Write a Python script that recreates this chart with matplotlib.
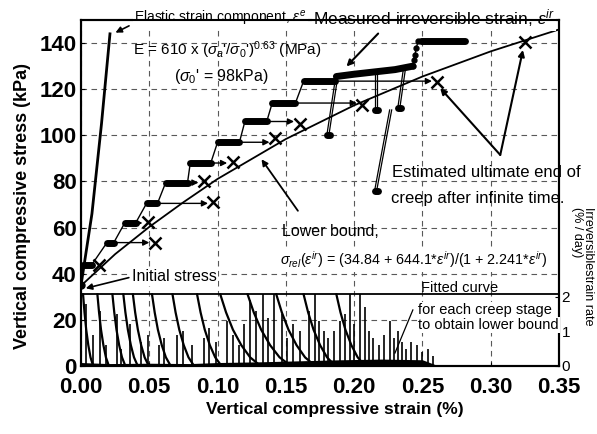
import matplotlib
matplotlib.use('Agg')
import matplotlib.pyplot as plt

plt.rcParams['font.family'] = ['Liberation Sans', 'DejaVu Sans']
plt.rcParams['mathtext.fontset'] = 'custom'
plt.rcParams['mathtext.rm'] = 'Liberation Sans'
plt.rcParams['mathtext.it'] = 'Liberation Sans:italic'

# ---- data (strain in %, stress in kPa, rate in %/day)
elastic_x = [0.0, 0.008, 0.015, 0.0212]
elastic_y = [35, 66, 105, 144]

lower_x = [0.0, 0.025, 0.05, 0.075, 0.10, 0.15, 0.20, 0.25, 0.30, 0.35]
lower_y = [34.8, 48.5, 60.3, 71.0, 81.1, 98.4, 113.0, 125.5, 136.4, 145.9]

step_stress = [44, 53.5, 62, 70.5, 79.5, 88, 97, 106, 114, 123.5]
step_x0 = [0.0015, 0.019, 0.032, 0.048, 0.062, 0.080, 0.100, 0.120, 0.140, 0.163]
step_x1 = [0.008, 0.024, 0.040, 0.056, 0.078, 0.095, 0.116, 0.136, 0.157, 0.186]

long_x = [0.187, 0.200, 0.215, 0.230, 0.243]
long_y = [125.5, 126.5, 127.5, 128.5, 130]
rise_x = [0.243, 0.2438, 0.2446, 0.2455, 0.247]
rise_y = [130, 132.5, 135, 138, 141]
top_x = [0.249, 0.281]
top_y = [141, 141]

# unloading excursions: top point, bottom point
loop_top_x = [0.186, 0.215, 0.236, 0.226]
loop_top_y = [123.5, 127, 128.5, 111]
loop_bot_x = [0.180, 0.215, 0.232, 0.215]
loop_bot_y = [100, 111, 112, 76]

# estimated ultimate ends of creep (X marks)
xm_x = [0.013, 0.054, 0.049, 0.097, 0.090, 0.111, 0.142, 0.160, 0.206, 0.261, 0.325]
xm_y = [44, 53.3, 62.4, 71, 80, 88.4, 98.8, 105, 113, 123, 140.5]

# creep stages in the rate panel
stage_start = [0.0015, 0.012, 0.023, 0.031, 0.038, 0.052, 0.067, 0.085, 0.102, 0.122, 0.143, 0.163, 0.187]
stage_width = [0.007, 0.008, 0.009, 0.010, 0.011, 0.013, 0.015, 0.017, 0.028, 0.030, 0.027, 0.022, 0.020]
decay_frac = [0.0, 0.15, 0.33, 0.55, 0.78, 1.0]
decay_rate = [2.07, 1.55, 1.05, 0.6, 0.25, 0.05]

spike_x = [0.004, 0.009, 0.014, 0.018, 0.026, 0.029, 0.036, 0.044, 0.049, 0.057, 0.061,
           0.070, 0.075, 0.081, 0.090, 0.094, 0.099, 0.107, 0.111, 0.116, 0.119, 0.124,
           0.128, 0.133, 0.137, 0.141, 0.147, 0.151, 0.155, 0.160, 0.167, 0.171, 0.174,
           0.178, 0.181, 0.185, 0.190, 0.193, 0.197, 0.200, 0.204, 0.208, 0.211, 0.214,
           0.218, 0.222, 0.226, 0.229, 0.232, 0.235, 0.238, 0.242, 0.246, 0.250, 0.254, 0.258]
spike_h = [1.8, 0.9, 1.6, 0.6, 1.5, 0.5, 1.2, 0.7, 0.9, 0.6, 0.8,
           0.9, 1.0, 0.6, 0.8, 1.1, 0.7, 1.3, 0.9, 0.6, 1.2, 1.9,
           1.6, 2.07, 1.4, 2.07, 1.5, 0.8, 1.2, 1.0, 1.6, 2.07, 1.3,
           1.0, 0.8, 1.0, 1.3, 1.5, 2.07, 1.2, 2.07, 1.7, 1.0, 0.8,
           0.6, 0.9, 1.3, 0.8, 1.0, 0.7, 0.5, 0.7, 0.6, 0.4, 0.5, 0.3]

floor_x = [0.0, 0.02, 0.05, 0.08, 0.10, 0.13, 0.16, 0.19, 0.22, 0.25, 0.262]
floor_h = [0.1, 0.07, 0.08, 0.07, 0.1, 0.12, 0.15, 0.18, 0.2, 0.18, 0.0]

xticks = [0.0, 0.05, 0.10, 0.15, 0.20, 0.25, 0.30, 0.35]
yticks = [0, 20, 40, 60, 80, 100, 120, 140]
rate_ticks = [0, 1, 2]

# ---- figure
fig = plt.figure(figsize=(5.97, 4.34), dpi=100)
ax = fig.add_axes([0.1357, 0.1567, 0.8006, 0.7972])
ax.set_xlim(0, 0.35)
ax.set_ylim(0, 150)
ax.set_xticks(xticks)
ax.set_xticklabels(['%.2f' % v for v in xticks], fontsize=16, fontweight='bold')
ax.set_yticks(yticks)
ax.set_yticklabels([str(v) for v in yticks], fontsize=16, fontweight='bold')
ax.tick_params(direction='in', length=3, pad=3)
ax.tick_params(axis='x', pad=8)
ax.grid(True, ls=(0, (5, 4)), color='0.35', lw=0.8)
ax.set_axisbelow(True)
for s in ax.spines.values():
    s.set_linewidth(1.5)

ax.axhline(31, color='black', lw=1.3)

# elastic line and lower bound
ax.plot(elastic_x, elastic_y, color='black', lw=2)
ax.plot(lower_x, lower_y, color='black', lw=1.3)

# staircase of measured irreversible strain
path_x = [0.0]
path_y = [35]
for x0, x1, s in zip(step_x0, step_x1, step_stress):
    path_x += [x0, x1]
    path_y += [s, s]
path_x += long_x + rise_x + top_x
path_y += long_y + rise_y + top_y
ax.plot(path_x, path_y, color='black', lw=1)
for x0, x1, s in zip(step_x0, step_x1, step_stress):
    ax.plot([x0, x1], [s, s], color='black', lw=5, solid_capstyle='round')
ax.plot(long_x, long_y, color='black', lw=5, solid_capstyle='round')
ax.plot(rise_x, rise_y, 'o', color='black', ms=3.5)
ax.plot(top_x, top_y, color='black', lw=5, solid_capstyle='round')
ax.plot([0.0], [35], 'o', color='black', ms=5)

for xt, yt, xb, yb in zip(loop_top_x, loop_top_y, loop_bot_x, loop_bot_y):
    ax.plot([xt, xb], [yt, yb], color='black', lw=0.9)
    ax.plot([xt + 0.0015, xb + 0.0015], [yt, yb], color='black', lw=0.9)
    ax.plot([xb, xb + 0.0025], [yb, yb], color='black', lw=5, solid_capstyle='round')

# arrows to the estimated end points
for i in range(10):
    ax.annotate('', xy=(xm_x[i] - 0.004, step_stress[i]),
                xytext=(step_x1[i] + 0.001, step_stress[i]),
                arrowprops=dict(arrowstyle='-|>', lw=1, color='black', mutation_scale=9,
                                shrinkA=0, shrinkB=0))
ax.plot(xm_x, xm_y, 'x', color='black', ms=9, mew=1.8)

# ---- rate panel
ax2 = ax.twinx()
ax2.set_ylim(0, 10)
ax2.set_yticks(rate_ticks)
ax2.set_yticklabels([str(v) for v in rate_ticks], fontsize=11)
ax2.tick_params(direction='in', length=3, pad=2)
for s in ax2.spines.values():
    s.set_linewidth(1.5)

ax2.fill_between(floor_x, 0, floor_h, color='black', lw=0)
ax2.vlines(spike_x, 0, spike_h, color='black', lw=1.2)
for x0, w in zip(stage_start, stage_width):
    ax2.plot([x0 + f * w for f in decay_frac], decay_rate, color='black', lw=1.6)

ax2.plot([0.2299, 0.243], [0.375, 1.62], color='black', lw=0.9)
ax2.text(0.249, 2.25, 'Fitted curve', fontsize=10.5, va='center', ha='left')
ax2.text(0.247, 1.62, 'for each creep stage', fontsize=10.5, va='center', ha='left',
         bbox=dict(facecolor='white', edgecolor='none', pad=0.5))
ax2.text(0.247, 1.19, 'to obtain lower bound', fontsize=10.5, va='center', ha='left',
         bbox=dict(facecolor='white', edgecolor='none', pad=0.5))

# ---- annotations
white = dict(facecolor='white', edgecolor='none', pad=1)
ax.text(0.039, 150.8, r'Elastic strain component, $\varepsilon^{e}$', fontsize=10,
        va='center', ha='left', bbox=white, clip_on=False)
ax.text(0.170, 150.8, r'Measured irreversible strain, $\varepsilon^{ir}$', fontsize=12.5,
        va='center', ha='left', bbox=white, clip_on=False)
ax.annotate('', xy=(0.0234, 144), xytext=(0.037, 148),
            arrowprops=dict(arrowstyle='-|>', lw=1.2, color='black', mutation_scale=9))
ax.annotate('', xy=(0.193, 129), xytext=(0.219, 145),
            arrowprops=dict(arrowstyle='-|>', lw=1.5, color='black', mutation_scale=9))

ax.text(0.038, 137, r"E = 610 x ($\sigma_a$'/$\sigma_0$')$^{0.63}$ (MPa)", fontsize=11,
        va='center', ha='left')
ax.text(0.103, 125.5, r"($\sigma_0$' = 98kPa)", fontsize=11.5, va='center', ha='center')

ax.text(0.037, 38.6, 'Initial stress', fontsize=11.5, va='center', ha='left', bbox=white)
ax.annotate('', xy=(0.0015, 33.4), xytext=(0.037, 38.6),
            arrowprops=dict(arrowstyle='-|>', lw=1.2, color='black', mutation_scale=9))

ax.text(0.147, 58.5, 'Lower bound,', fontsize=11.5, va='center', ha='left')
ax.annotate('', xy=(0.131, 90.6), xytext=(0.160, 66.3),
            arrowprops=dict(arrowstyle='-|>', lw=1.3, color='black', mutation_scale=9))
ax.text(0.146, 46, r'$\sigma_{rel}(\varepsilon^{ir})$ = (34.84 + 644.1*$\varepsilon^{ir}$)/(1 + 2.241*$\varepsilon^{ir}$)',
        fontsize=10.3, va='center', ha='left', bbox=white)

ax.text(0.228, 83.7, 'Estimated ultimate end of', fontsize=12, va='center', ha='left')
ax.text(0.227, 72.8, 'creep after infinite time.', fontsize=12, va='center', ha='left')
for tx, ty in [(0.263, 120.5), (0.3236, 137)]:
    ax.annotate('', xy=(tx, ty), xytext=(0.307, 91.5),
                arrowprops=dict(arrowstyle='-|>', lw=1.5, color='black', mutation_scale=9,
                                shrinkA=0, shrinkB=0))

# axis titles
fig.text(0.561, 0.0553, 'Vertical compressive strain (%)', fontsize=12.5, fontweight='bold',
         ha='center', va='center')
fig.text(0.0385, 0.525, 'Vertical compressive stress (kPa)', fontsize=13, fontweight='bold',
         rotation=90, ha='center', va='center')
fig.text(0.976, 0.523, 'Irreversiblestrain rate\n(% / day)', fontsize=9, rotation=270,
         ha='center', va='top', multialignment='left', linespacing=0.9)

fig.savefig('out.png', dpi=100)
